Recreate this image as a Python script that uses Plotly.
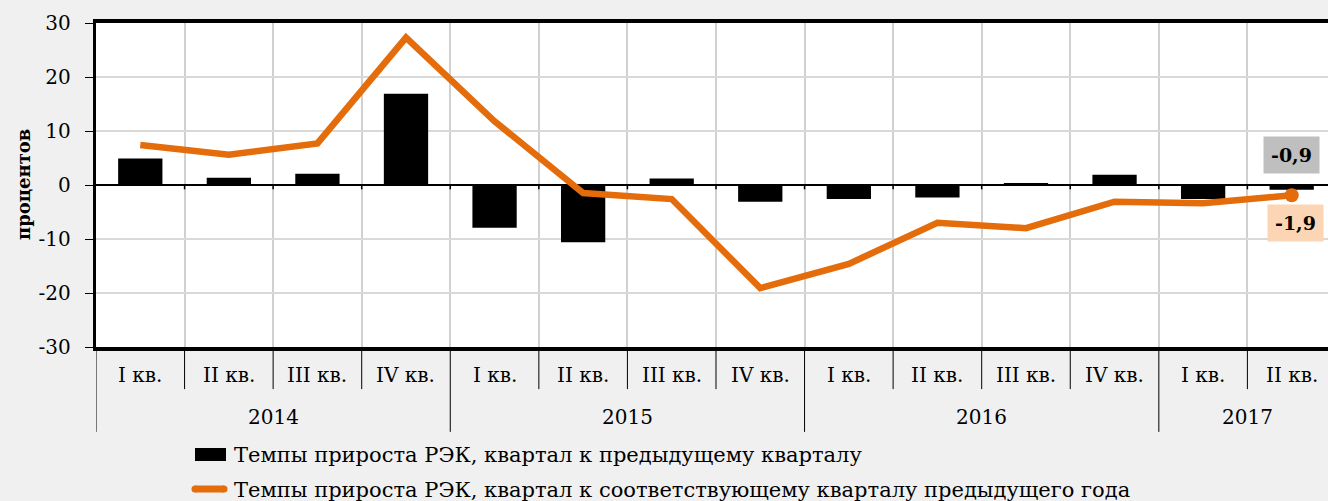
import plotly.graph_objects as go

years = ["2014", "2015", "2016", "2017"]
quarters = ["I кв.", "II кв.", "III кв.", "IV кв.",
            "I кв.", "II кв.", "III кв.", "IV кв.",
            "I кв.", "II кв.", "III кв.", "IV кв.",
            "I кв.", "II кв."]
quarters_per_year = [4, 4, 4, 2]
qoq = [4.9, 1.35, 2.1, 16.9, -7.9, -10.6, 1.2, -3.1, -2.6, -2.3, 0.2, 1.9, -2.6, -0.9]
yoy = [7.4, 5.6, 7.7, 27.3, 11.8, -1.5, -2.6, -19.1, -14.6, -7.0, -8.0, -3.1, -3.4, -1.9]
y_ticks = [-30, -20, -10, 0, 10, 20, 30]
name_qoq = "Темпы прироста РЭК, квартал к предыдущему кварталу"
name_yoy = "Темпы прироста РЭК, квартал к соответствующему кварталу предыдущего года"
y_title = "процентов"

FONT = "DejaVu Serif, Liberation Serif, serif"
ORANGE = "#e46c0a"
x = list(range(len(quarters)))
n = len(quarters)

# figure geometry (pixels) used to place the hand-built legend
W, H = 1328, 501
ML, MR, MT, MB = 96, 0, 23, 154
PW, PH = W - ML - MR, H - MT - MB


def px(xp):
    return (xp - ML) / PW


def py(yp):
    return (H - MB - yp) / PH


fig = go.Figure()
fig.add_trace(go.Bar(x=x, y=qoq, name=name_qoq, marker=dict(color="black", line=dict(width=0)),
                     width=0.5, showlegend=False))
fig.add_trace(go.Scatter(x=x, y=yoy, name=name_yoy, mode="lines",
                         line=dict(color=ORANGE, width=6.5), showlegend=False))
fig.add_trace(go.Scatter(x=[x[-1]], y=[yoy[-1]], mode="markers", showlegend=False,
                         marker=dict(color=ORANGE, size=14)))

shapes = []
for k in range(n):
    b = k - 0.5
    shapes.append(dict(type="line", xref="x", yref="y", x0=b + 1, x1=b + 1, y0=0, y1=-0.8,
                       line=dict(color="black", width=1.5)))
year_bounds = [-0.5]
acc = -0.5
for c in quarters_per_year:
    acc += c
    year_bounds.append(acc)
for k in range(n):
    b = k - 0.5
    if b in year_bounds:
        continue
    shapes.append(dict(type="line", xref="x", yref="paper", x0=b, x1=b, y0=0, y1=-0.13,
                       line=dict(color="black", width=1)))
for b in year_bounds[:-1]:
    shapes.append(dict(type="line", xref="x", yref="paper", x0=b, x1=b, y0=0, y1=-0.262,
                       line=dict(color="black", width=1)))

# legend symbols
shapes.append(dict(type="rect", xref="paper", yref="paper", x0=px(195), x1=px(226),
                   y0=py(461), y1=py(448), fillcolor="black", line=dict(width=0)))
shapes.append(dict(type="line", xref="paper", yref="paper", x0=px(195), x1=px(224),
                   y0=py(489), y1=py(489), line=dict(color=ORANGE, width=7)))
for cx in (195, 224):
    shapes.append(dict(type="circle", xref="paper", yref="paper", xsizemode="pixel",
                       ysizemode="pixel", xanchor=px(cx), yanchor=py(489),
                       x0=-3.5, x1=3.5, y0=-3.5, y1=3.5, fillcolor=ORANGE, line=dict(width=0)))
fig.update_layout(shapes=shapes)

annotations = []
for k, q in enumerate(quarters):
    annotations.append(dict(x=k, y=0, xref="x", yref="paper", text=q, showarrow=False,
                            yanchor="middle", yshift=-28, font=dict(family=FONT, size=20, color="black")))
start = 0
for yv, c in zip(years, quarters_per_year):
    annotations.append(dict(x=start + (c - 1) / 2, y=0, xref="x", yref="paper", text=yv,
                            showarrow=False, yanchor="middle", yshift=-70,
                            font=dict(family=FONT, size=20, color="black")))
    start += c
annotations.append(dict(x=x[-1], y=qoq[-1], xref="x", yref="y",
                        text="<b>" + f"{qoq[-1]:.1f}".replace(".", ",") + "</b>",
                        showarrow=False, yshift=35, bgcolor="#bfbfbf",
                        font=dict(family=FONT, size=19, color="black"), borderpad=7))
annotations.append(dict(x=x[-1], y=yoy[-1], xref="x", yref="y",
                        text="<b>" + f"{yoy[-1]:.1f}".replace(".", ",") + "</b>",
                        showarrow=False, yshift=-28, xshift=4, bgcolor="#fcd5b4",
                        font=dict(family=FONT, size=19, color="black"), borderpad=7))
# legend texts
for name, yp in ((name_qoq, 455), (name_yoy, 490)):
    annotations.append(dict(x=px(232), y=py(yp), xref="paper", yref="paper", text=name,
                            showarrow=False, xanchor="left", yanchor="middle",
                            font=dict(family=FONT, size=21, color="black")))
# y axis title
annotations.append(dict(x=px(23), y=0.5, xref="paper", yref="paper", text="<b>" + y_title + "</b>",
                        textangle=-90, showarrow=False, xanchor="center", yanchor="middle",
                        font=dict(family=FONT, size=18, color="black")))
fig.update_layout(annotations=annotations)

fig.update_layout(
    width=W, height=H,
    margin=dict(l=ML, r=MR, t=MT, b=MB),
    paper_bgcolor="#f0f0f0", plot_bgcolor="white",
    font=dict(family=FONT, color="black"),
    showlegend=False,
    xaxis=dict(range=[-0.5, n - 0.59], tickvals=[k + 0.5 for k in range(n - 1)],
               showticklabels=False, showgrid=True, gridcolor="#d0d0d0", gridwidth=1.5,
               showline=True, linecolor="black", linewidth=4, mirror=True, zeroline=False,
               ticks=""),
    yaxis=dict(range=[-30, 30], tickvals=y_ticks,
               ticktext=[str(v) + "\u00a0\u2009" for v in y_ticks],
               showgrid=True, gridcolor="#d9d9d9", gridwidth=1.5,
               zeroline=True, zerolinecolor="black", zerolinewidth=1.5,
               showline=True, linecolor="black", linewidth=3,
               ticks="outside", ticklen=8, tickcolor="black",
               tickfont=dict(family=FONT, size=20, color="black")),
)

fig.write_html("out.html", config={"displayModeBar": False},
               post_script="document.body.style.margin='0';document.body.style.overflow='hidden';")
